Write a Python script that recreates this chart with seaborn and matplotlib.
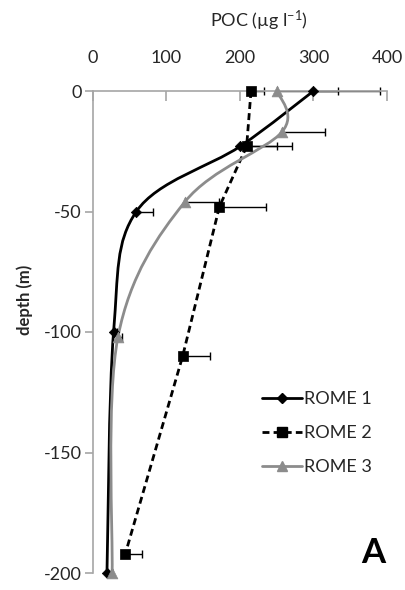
import numpy as np
import pandas as pd
import matplotlib
matplotlib.use("Agg")
import matplotlib.pyplot as plt
from matplotlib.path import Path
from matplotlib.patches import PathPatch
from matplotlib.lines import Line2D
import seaborn as sns

# POC profiles (µg l-1) against depth (m), with positive error bars
rome1_depth = [0, -23, -50, -100, -200]
rome1_poc = [300, 200, 59, 28, 19]
rome1_err = [90, 50, 23, 5, 0]

rome2_depth = [0, -23, -48, -110, -192]
rome2_poc = [215, 209, 172, 122, 44]
rome2_err = [17, 62, 63, 37, 22]

rome3_depth = [0, -17, -46, -102, -200]
rome3_poc = [251, 257, 125, 34, 26]
rome3_err = [83, 59, 47, 5, 0]

series_names = ["ROME 1", "ROME 2", "ROME 3"]
x_ticks = [0, 100, 200, 300, 400]
y_ticks = [0, -50, -100, -150, -200]

BLACK = "#000000"
GREY = "#8c8c8c"
AXIS = "#a6a6a6"
TEXT = "#262626"

sns.set_theme(style="white")
plt.rcParams["font.family"] = ["Lato", "DejaVu Sans"]
plt.rcParams["mathtext.default"] = "regular"
plt.rcParams["axes.unicode_minus"] = False


def smooth_path(x, y):
    """Cubic Bezier path through the points (cardinal spline, tension 1/6)."""
    pts = np.column_stack([x, y]).astype(float)
    ext = np.vstack([pts[0], pts, pts[-1]])
    verts = [pts[0]]
    codes = [Path.MOVETO]
    for i in range(len(pts) - 1):
        p0, p1, p2, p3 = ext[i], ext[i + 1], ext[i + 2], ext[i + 3]
        verts += [p1 + (p2 - p0) / 6.0, p2 - (p3 - p1) / 6.0, p2]
        codes += [Path.CURVE4] * 3
    return Path(verts, codes)


fig = plt.figure(figsize=(4.06, 5.90), dpi=100)
ax = fig.add_axes([93 / 406, 1 - 573 / 590, 294 / 406, 482 / 590])

df1 = pd.DataFrame({"poc": rome1_poc, "depth": rome1_depth})
df2 = pd.DataFrame({"poc": rome2_poc, "depth": rome2_depth})
df3 = pd.DataFrame({"poc": rome3_poc, "depth": rome3_depth})

# ROME 1: smoothed black line with diamonds
ax.add_patch(PathPatch(smooth_path(rome1_poc, rome1_depth), fill=False,
                       ec=BLACK, lw=2, clip_on=False, zorder=2))
ax.errorbar(rome1_poc, rome1_depth, xerr=[np.zeros(len(rome1_err)), rome1_err],
            fmt="none", ecolor=BLACK, elinewidth=1, capsize=3, capthick=1,
            clip_on=False, zorder=2)
sns.scatterplot(data=df1, x="poc", y="depth", marker="D", s=28, color=BLACK,
                edgecolor=BLACK, linewidth=0.5, ax=ax, clip_on=False, zorder=3)

# ROME 2: dashed black line with squares
sns.lineplot(data=df2, x="poc", y="depth", sort=False, estimator=None,
             color=BLACK, lw=2, ax=ax, clip_on=False, zorder=2)
ax.lines[-1].set_dashes((2.5, 1.5))
ax.errorbar(rome2_poc, rome2_depth, xerr=[np.zeros(len(rome2_err)), rome2_err],
            fmt="none", ecolor=BLACK, elinewidth=1, capsize=3, capthick=1,
            clip_on=False, zorder=2)
sns.scatterplot(data=df2, x="poc", y="depth", marker="s", s=60, color=BLACK,
                edgecolor=BLACK, linewidth=0.5, ax=ax, clip_on=False, zorder=3)

# ROME 3: smoothed grey line with triangles
ax.add_patch(PathPatch(smooth_path(rome3_poc, rome3_depth), fill=False,
                       ec=GREY, lw=2, clip_on=False, zorder=2))
ax.errorbar(rome3_poc, rome3_depth, xerr=[np.zeros(len(rome3_err)), rome3_err],
            fmt="none", ecolor=BLACK, elinewidth=1, capsize=3, capthick=1,
            clip_on=False, zorder=2)
sns.scatterplot(data=df3, x="poc", y="depth", marker="^", s=60, color=GREY,
                edgecolor=GREY, linewidth=0.5, ax=ax, clip_on=False, zorder=3)

# Axes: x axis on top, depth axis on the left
ax.set_xlim(0, 400)
ax.set_ylim(-200, 0)
ax.set_xticks(x_ticks)
ax.set_yticks(y_ticks)
ax.xaxis.tick_top()
for side in ("bottom", "right"):
    ax.spines[side].set_visible(False)
for side in ("top", "left"):
    ax.spines[side].set_visible(True)
    ax.spines[side].set_color(AXIS)
    ax.spines[side].set_linewidth(1.2)
ax.tick_params(axis="x", which="major", direction="in", length=7, width=1.2,
               color=AXIS, labelsize=13, labelcolor=TEXT, pad=18,
               top=True, bottom=False, labeltop=True, labelbottom=False)
ax.tick_params(axis="y", which="major", direction="out", length=6, width=1.2,
               color=AXIS, labelsize=13, labelcolor=TEXT, pad=2,
               left=True, right=False)
ax.set_xlabel("")
ax.set_ylabel("")
ax.grid(False)
ax.set_facecolor("white")

fig.text(259 / 406, 1 - 21 / 590, r"POC (µg l$^{-1}$)", ha="center", va="center",
         fontsize=13, color=TEXT)
fig.text(25 / 406, 1 - 300 / 590, "depth (m)", ha="center", va="center",
         rotation=90, fontsize=12, fontweight="bold", color=TEXT)
fig.text(373 / 406, 1 - 563 / 590, "A", ha="center", va="baseline",
         fontsize=25, fontweight="bold", color=BLACK)

handles = [
    Line2D([], [], color=BLACK, lw=2, marker="D", ms=5),
    Line2D([], [], color=BLACK, lw=2, linestyle=(0, (2.5, 1.5)), marker="s", ms=7),
    Line2D([], [], color=GREY, lw=2, marker="^", ms=7),
]
ax.legend(handles, series_names, loc="center left",
          bbox_to_anchor=((262 - 93) / 294, (573 - 433) / 482),
          frameon=False, fontsize=13, handlelength=2.2, handletextpad=0.15,
          labelspacing=1.0, borderpad=0, borderaxespad=0, labelcolor=TEXT)

fig.savefig("out.png", dpi=100, facecolor="white")
